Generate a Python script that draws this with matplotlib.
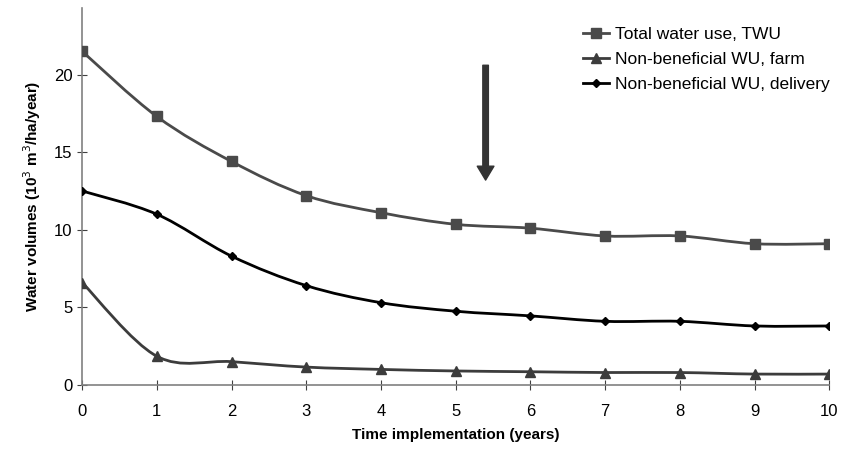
import numpy as np
import matplotlib.pyplot as plt
from matplotlib.path import Path
from matplotlib.patches import PathPatch
from matplotlib.lines import Line2D

plt.rcParams['font.family'] = ['Liberation Sans', 'DejaVu Sans']

# Data
years = [0, 1, 2, 3, 4, 5, 6, 7, 8, 9, 10]
twu = [21.5, 17.3, 14.4, 12.2, 11.1, 10.35, 10.1, 9.6, 9.6, 9.1, 9.1]
farm = [6.6, 1.85, 1.5, 1.15, 1.0, 0.9, 0.85, 0.8, 0.8, 0.7, 0.7]
delivery = [12.5, 11.0, 8.3, 6.4, 5.3, 4.75, 4.45, 4.1, 4.1, 3.8, 3.8]
labels = ['Total water use, TWU', 'Non-beneficial WU, farm', 'Non-beneficial WU, delivery']


def smooth_path(x, y, t=1/6):
    # Bezier path through the points (Excel-like smoothed line)
    x = np.asarray(x, float)
    y = np.asarray(y, float)
    verts = [(x[0], y[0])]
    codes = [Path.MOVETO]
    n = len(x)
    for i in range(n - 1):
        x0, y0 = (x[i - 1], y[i - 1]) if i > 0 else (x[i], y[i])
        x3, y3 = (x[i + 2], y[i + 2]) if i + 2 < n else (x[i + 1], y[i + 1])
        c1 = (x[i] + (x[i + 1] - x0) * t, y[i] + (y[i + 1] - y0) * t)
        c2 = (x[i + 1] - (x3 - x[i]) * t, y[i + 1] - (y3 - y[i]) * t)
        verts += [c1, c2, (x[i + 1], y[i + 1])]
        codes += [Path.CURVE4] * 3
    return Path(verts, codes)


fig = plt.figure(figsize=(8.55, 4.61), dpi=100)
ax = fig.add_axes([0.096, 0.165, 0.874, 0.818])

series = [
    (twu, '#4a4a4a', 's', 6.5),
    (farm, '#3c3c3c', '^', 7),
    (delivery, '#000000', 'D', 4.5),
]
handles = []
for (vals, col, mk, ms), lab in zip(series, labels):
    ax.add_patch(PathPatch(smooth_path(years, vals), fill=False, edgecolor=col, lw=2))
    ax.plot(years, vals, ls='none', marker=mk, ms=ms, color=col, zorder=3)
    handles.append(Line2D([], [], color=col, lw=2, marker=mk, ms=ms, label=lab))

ax.annotate('', xy=(5.4, 13.2), xytext=(5.4, 20.6),
            arrowprops=dict(width=4, headwidth=12, headlength=10, shrink=0,
                            color='#333333'))

ax.set_xlim(0, 10)
ax.set_ylim(0, 24.3)
ax.set_xticks(years)
ax.set_yticks([0, 5, 10, 15, 20])
for s in ['top', 'right']:
    ax.spines[s].set_visible(False)
for s in ['left', 'bottom']:
    ax.spines[s].set_color('#808080')
    ax.spines[s].set_linewidth(1.2)
ax.tick_params(direction='inout', length=7, color='#404040', labelsize=12)
ax.tick_params(axis='x', pad=10)
ax.set_xlabel('Time implementation (years)', fontsize=11, fontweight='bold', labelpad=7)
ax.set_ylabel('Water volumes (10$^3$ m$^3$/ha/year)', fontsize=11, fontweight='bold', labelpad=8)

ax.legend(handles=handles, loc='upper left', bbox_to_anchor=(0.65, 0.99), frameon=False,
          fontsize=12.5, handlelength=1.5, handletextpad=0.3, labelspacing=0.55)

fig.savefig('out.png', dpi=100)
